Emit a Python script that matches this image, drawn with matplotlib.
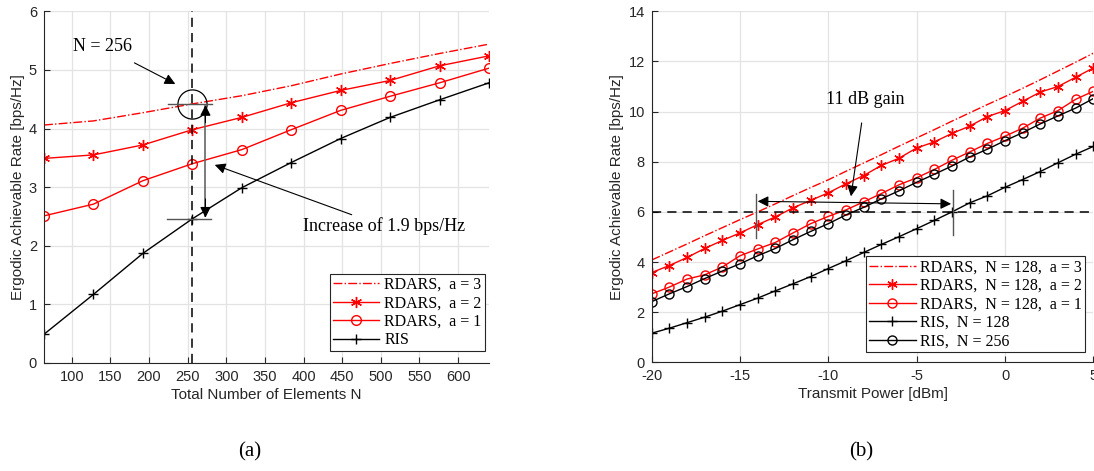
import numpy as np
import matplotlib
matplotlib.use("Agg")
import matplotlib.pyplot as plt

plt.rcParams['font.family'] = ['Liberation Sans', 'DejaVu Sans']
plt.rcParams['axes.unicode_minus'] = False

SERIF = ['Liberation Serif', 'DejaVu Serif']
DARK = '#262626'
GRID = '#e3e3e3'
STAR = (6, 2, 0)  # asterisk like MATLAB '*'

# (a) rate vs total number of elements
n_elem = [64, 128, 192, 256, 320, 384, 448, 512, 576, 640]
rdars_a3_n = [4.06, 4.13, 4.27, 4.42, 4.56, 4.73, 4.93, 5.11, 5.28, 5.44]
rdars_a2_n = [3.49, 3.55, 3.72, 3.98, 4.19, 4.44, 4.65, 4.82, 5.07, 5.24]
rdars_a1_n = [2.51, 2.71, 3.11, 3.40, 3.64, 3.98, 4.31, 4.55, 4.78, 5.03]
ris_n = [0.49, 1.17, 1.87, 2.46, 2.99, 3.42, 3.83, 4.19, 4.49, 4.78]

# (b) rate vs transmit power
power = list(range(-20, 6))
rdars_a3_p = [4.08, 4.40, 4.72, 5.05, 5.37, 5.69, 6.00, 6.32, 6.65, 6.97, 7.28, 7.62, 7.95,
              8.28, 8.62, 8.95, 9.28, 9.62, 9.95, 10.28, 10.60, 10.93, 11.27, 11.62, 11.97, 12.33]
rdars_a2_p = [3.58, 3.86, 4.18, 4.54, 4.86, 5.16, 5.49, 5.80, 6.16, 6.46, 6.76, 7.12, 7.45,
              7.85, 8.14, 8.55, 8.79, 9.13, 9.42, 9.80, 10.04, 10.41, 10.78, 11.00, 11.37, 11.74]
rdars_a1_p = [2.73, 3.00, 3.32, 3.49, 3.80, 4.25, 4.52, 4.78, 5.16, 5.53, 5.82, 6.08, 6.40,
              6.73, 7.08, 7.36, 7.69, 8.06, 8.39, 8.73, 9.02, 9.34, 9.74, 10.04, 10.49, 10.81]
ris128_p = [1.16, 1.36, 1.58, 1.80, 2.04, 2.30, 2.56, 2.85, 3.13, 3.42, 3.74, 4.05, 4.38,
            4.70, 5.01, 5.33, 5.66, 6.00, 6.36, 6.64, 6.98, 7.29, 7.61, 7.96, 8.30, 8.61]
ris256_p = [2.42, 2.73, 3.02, 3.34, 3.64, 3.93, 4.25, 4.54, 4.89, 5.22, 5.53, 5.88, 6.18,
            6.52, 6.84, 7.18, 7.50, 7.83, 8.19, 8.50, 8.84, 9.16, 9.51, 9.83, 10.14, 10.52]


def style_axes(ax):
    for s in ['top', 'right']:
        ax.spines[s].set_visible(False)
    for s in ['left', 'bottom']:
        ax.spines[s].set_color(DARK)
        ax.spines[s].set_linewidth(0.8)
    ax.tick_params(direction='in', length=4, width=0.8, colors=DARK, labelsize=10.5, pad=5)
    ax.grid(True, color=GRID, linewidth=0.9)
    ax.set_axisbelow(True)


def make_legend(ax, loc, bbox):
    leg = ax.legend(loc=loc, bbox_to_anchor=bbox, prop={'family': SERIF, 'size': 11.5},
                    fancybox=False, framealpha=1, edgecolor=DARK, handlelength=2.9,
                    borderpad=0.2, labelspacing=0.15, handletextpad=0.3, borderaxespad=0)
    leg.get_frame().set_linewidth(0.8)
    return leg


fig = plt.figure(figsize=(10.94, 4.71), dpi=100)

# ---------------- (a) ----------------
ax1 = fig.add_axes([0.0402, 0.2293, 0.4068, 0.7467])
style_axes(ax1)
ax1.plot(n_elem, rdars_a3_n, '-.', color='red', lw=1, label='RDARS,  a = 3')
ax1.plot(n_elem, rdars_a2_n, '-', marker=STAR, ms=8, mew=1, color='red', lw=1, label='RDARS,  a = 2')
ax1.plot(n_elem, rdars_a1_n, '-', marker='o', ms=7, mfc='none', color='red', lw=1, label='RDARS,  a = 1')
ax1.plot(n_elem, ris_n, '-', marker='+', ms=7, color='black', lw=1, label='RIS')
ax1.set_xlim(64, 640)
ax1.set_ylim(0, 6)
ax1.set_xticks(range(100, 601, 50))
ax1.set_yticks(range(0, 7))
ax1.set_xlabel('Total Number of Elements N', fontsize=11, color=DARK, labelpad=3)
ax1.set_ylabel('Ergodic Achievable Rate [bps/Hz]', fontsize=11, color=DARK, labelpad=3)

ax1.axvline(256, color='black', ls=(0, (6, 4)), lw=1.1)
ax1.plot([256], [4.42], marker='o', ms=21, mfc='none', mec='black', mew=0.9)
ax1.plot([224, 281], [4.42, 4.42], color='#555555', lw=1)
ax1.plot([223, 280], [2.46, 2.46], color='#555555', lw=1)
ax1.plot([273, 273], [2.5, 4.38], color='#666666', lw=1.2)
for y0, y1 in [(4.1, 4.40), (2.8, 2.48)]:
    ax1.annotate('', xy=(273, y1), xytext=(273, y0),
                 arrowprops=dict(arrowstyle='-|>', color='black', lw=0.8, mutation_scale=16,
                                 shrinkA=0, shrinkB=0))
ax1.annotate('N = 256', xy=(234, 4.76), xytext=(140, 5.40), ha='center', va='center',
             fontsize=13, family=SERIF,
             arrowprops=dict(arrowstyle='-|>', color='black', lw=0.8, mutation_scale=16,
                             shrinkA=8, shrinkB=0))
ax1.annotate('Increase of 1.9 bps/Hz', xy=(285, 3.38), xytext=(399, 2.33),
             fontsize=13, family=SERIF, ha='left', va='center',
             arrowprops=dict(arrowstyle='-|>', color='black', lw=0.8, mutation_scale=16,
                             shrinkA=0, shrinkB=0))
make_legend(ax1, 'lower right', (0.99, 0.033))

# ---------------- (b) ----------------
ax2 = fig.add_axes([0.5957, 0.2308, 0.4037, 0.7452])
style_axes(ax2)
ax2.plot(power, rdars_a3_p, '-.', color='red', lw=1, label='RDARS,  N = 128,  a = 3')
ax2.plot(power, rdars_a2_p, '-', marker=STAR, ms=7.5, mew=1, color='red', lw=1, label='RDARS,  N = 128,  a = 2')
ax2.plot(power, rdars_a1_p, '-', marker='o', ms=6.5, mfc='none', color='red', lw=1, label='RDARS,  N = 128,  a = 1')
ax2.plot(power, ris128_p, '-', marker='+', ms=6.5, color='black', lw=1, label='RIS,  N = 128')
ax2.plot(power, ris256_p, '-', marker='o', ms=6.5, mfc='none', color='black', lw=1, label='RIS,  N = 256')
ax2.set_xlim(-20, 5)
ax2.set_ylim(0, 14)
ax2.set_xticks(range(-20, 6, 5))
ax2.set_yticks(range(0, 15, 2))
ax2.set_xlabel('Transmit Power [dBm]', fontsize=11, color=DARK, labelpad=3)
ax2.set_ylabel('Ergodic Achievable Rate [bps/Hz]', fontsize=11, color=DARK, labelpad=3)

ax2.axhline(6, color='black', ls=(0, (6, 4)), lw=1.1)
ax2.plot([-14.1, -14.1], [4.96, 6.73], color='#555555', lw=1)
ax2.plot([-2.95, -2.95], [5.06, 6.86], color='#555555', lw=1)
ax2.annotate('', xy=(-14.0, 6.42), xytext=(-3.05, 6.32),
             arrowprops=dict(arrowstyle='<|-|>', color='black', lw=0.8, mutation_scale=16,
                             shrinkA=0, shrinkB=0))
ax2.annotate('11 dB gain', xy=(-8.72, 6.62), xytext=(-7.92, 10.49), ha='center', va='center',
             fontsize=13, family=SERIF,
             arrowprops=dict(arrowstyle='-|>', color='black', lw=0.8, mutation_scale=16,
                             shrinkA=9, shrinkB=0))
make_legend(ax2, 'lower right', (0.982, 0.028))

fig.text(0.2285, 0.021, '(a)', fontsize=15, family=SERIF, ha='center', va='bottom')
fig.text(0.7875, 0.021, '(b)', fontsize=15, family=SERIF, ha='center', va='bottom')

fig.savefig('out.png', dpi=100)
